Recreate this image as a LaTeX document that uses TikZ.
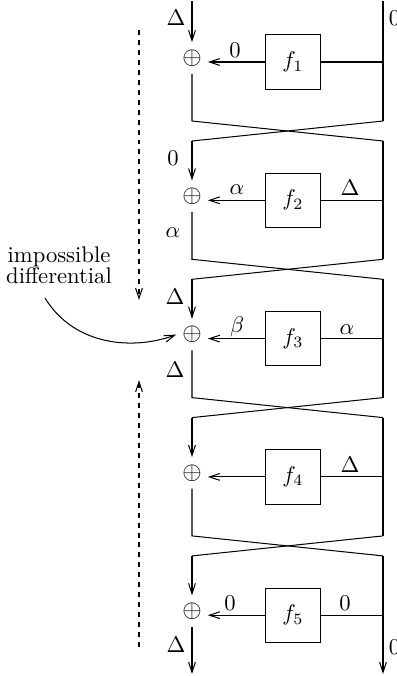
\documentclass[tikz,border=0pt]{standalone}
\usetikzlibrary{arrows.meta,calc}
\begin{document}
\begin{tikzpicture}[x=0.442pt,y=-0.442pt, line width=0.45pt,
  >={Straight Barb[length=4.6pt,width=3pt,line width=0.45pt]},
  fbox/.style={draw, minimum size=24pt, inner sep=0pt},
  xorn/.style={circle, inner sep=0pt, minimum size=13.5pt},
  lbl/.style={inner sep=0pt},
  dasharrow/.style={dash pattern=on 2.2pt off 2.2pt}]
\useasboundingbox (0,0) rectangle (397,676);

% rounds
\foreach \i in {1,...,5} {
  \pgfmathsetmacro{\yy}{62+138.3*(\i-1)}
  \node[fbox] (f\i) at (293,\yy) {$f_{\i}$};
  \node[xorn] (x\i) at (192,\yy-4) {\scalebox{1.1}{$\oplus$}};
  \coordinate (r\i) at (383,\yy);
  \draw[->] (f\i.west) -- (f\i.west -| x\i.east);
  \draw (f\i.east) -- (r\i);
}

% crosses
\foreach \k in {1,...,4} {
  \pgfmathsetmacro{\cc}{62+138.3*(\k-1)+69}
  \coordinate (ul\k) at (192,\cc-10);
  \coordinate (ur\k) at (383,\cc-10);
  \coordinate (ll\k) at (192,\cc+10);
  \coordinate (lr\k) at (383,\cc+10);
  \draw (x\k.south) -- (ul\k) -- (lr\k);
  \draw (ur\k) -- (ll\k);
}
\foreach \k/\n in {1/2,2/3,3/4,4/5} {
  \draw[->] (ll\k) -- (x\n.north);
}
\foreach \k/\p in {2/1,3/2,4/3} {
  \draw (lr\p) -- (ur\k);
}

% top and bottom
\coordinate (tl) at (192,1);
\coordinate (tr) at (383,1);
\coordinate (bl) at (192,674);
\coordinate (br) at (383,674);
\draw[->] (tl) -- (x1.north);
\draw (tr) -- (ur1);
\draw[->] (x5.south) -- (bl);
\draw[->] (lr4) -- (br);

% labels round 1
\node[lbl] (a1) at (176,18) {$\Delta$};
\node[lbl] (a2) at (235,50) {$0$};
\node[lbl] (a3) at (394.5,18) {$0$};
% round 2
\node[lbl] (b1) at (173,158) {$0$};
\node[lbl] (b2) at (237,190) {$\alpha$};
\node[lbl] (b3) at (350,188) {$\Delta$};
\node[lbl] (b4) at (173,233) {$\alpha$};
% round 3
\node[lbl] (c1) at (175,297) {$\Delta$};
\node[lbl] (c2) at (237,327) {$\beta$};
\node[lbl] (c3) at (347,330) {$\alpha$};
\node[lbl] (c4) at (175,370) {$\Delta$};
% round 4
\node[lbl] (d1) at (350,465) {$\Delta$};
% round 5
\node[lbl] (e1) at (230,603) {$0$};
\node[lbl] (e2) at (345,603) {$0$};
\node[lbl] (e3) at (176,645) {$\Delta$};
\node[lbl] (e4) at (394.5,647) {$0$};

% impossible differential
\node[anchor=base, inner sep=0pt] (imp1) at (59,262) {impossible};
\node[anchor=base, inner sep=0pt] (imp2) at (59,283) {differential};
\coordinate (cs) at (45,298);
\draw[->] (cs) .. controls (75,347) and (135,350) .. (x3.west);

% dashed arrows
\coordinate (da) at (139,30);
\coordinate (db) at (139,300);
\coordinate (dc) at (139,647);
\coordinate (dd) at (139,380);
\draw[->,dasharrow] (da) -- (db);
\draw[->,dasharrow] (dc) -- (dd);
\end{tikzpicture}
\end{document}
